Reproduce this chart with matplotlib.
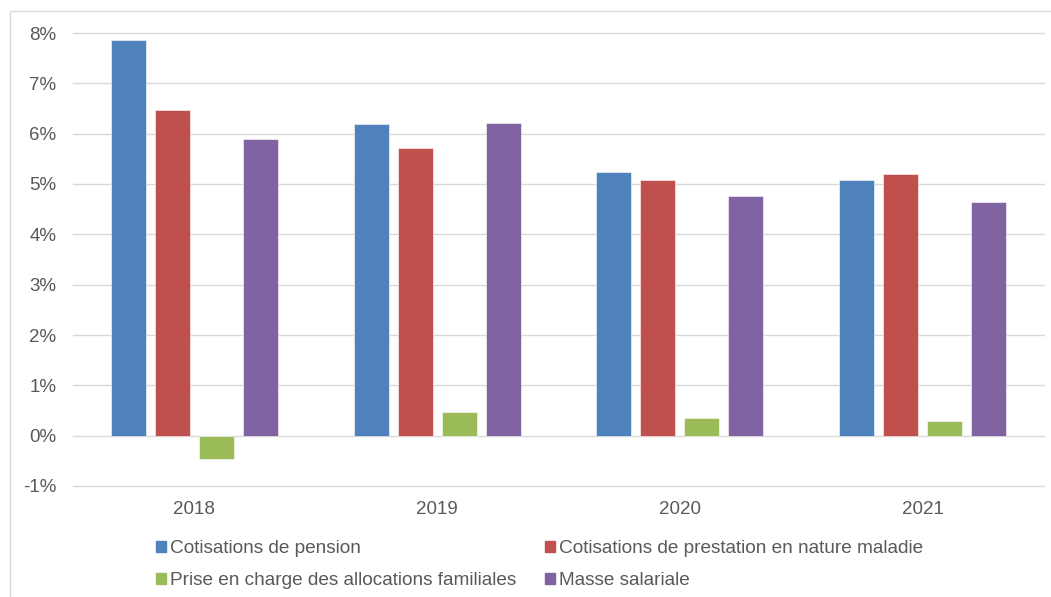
import matplotlib
matplotlib.use("Agg")
import matplotlib.pyplot as plt
import numpy as np
from matplotlib.patches import Rectangle, Patch

plt.rcParams['font.family'] = ['Liberation Sans', 'DejaVu Sans']

years = ["2018", "2019", "2020", "2021"]
series_names = [
    "Cotisations de pension",
    "Cotisations de prestation en nature maladie",
    "Prise en charge des allocations familiales",
    "Masse salariale",
]
pension = [7.86, 6.19, 5.24, 5.08]
maladie = [6.47, 5.71, 5.07, 5.19]
allocations = [-0.47, 0.48, 0.35, 0.29]
masse = [5.89, 6.21, 4.77, 4.65]
colors = ["#4F81BD", "#C0504D", "#9BBB59", "#8064A2"]
yticks = [-1, 0, 1, 2, 3, 4, 5, 6, 7, 8]

W, H = 1051, 597
fig = plt.figure(figsize=(W / 100, H / 100), dpi=100)
ax = fig.add_axes([73 / W, 1 - 486 / H, (1044 - 73) / W, (486 - 33) / H])

# outer frame
fig.patches.append(Rectangle((10 / W, -0.05), 1.1, 1 - 11 / H + 0.05,
                             transform=fig.transFigure, fill=False,
                             edgecolor="#d9d9d9", linewidth=1.0, zorder=0))

x = np.arange(len(years))
pitch = 44 / 242.75
bw = 35 / 242.75
data = [pension, maladie, allocations, masse]
for i, (vals, c) in enumerate(zip(data, colors)):
    ax.bar(x + (i - 1.5) * pitch, vals, width=bw, color=c, zorder=3,
           edgecolor="white", linewidth=0.4)

ax.set_xlim(-0.5, 3.5)
ax.set_ylim(-1, 8)
ax.set_yticks(yticks)
ax.set_yticklabels([f"{t}%" for t in yticks])
ax.set_xticks(x)
ax.set_xticklabels(years)
for t in yticks:
    ax.axhline(t, color="#d9d9d9", linewidth=1.0, zorder=0, clip_on=False)
for s in ax.spines.values():
    s.set_visible(False)
ax.tick_params(axis="both", length=0, labelsize=13.5, labelcolor="#595959")
ax.tick_params(axis="y", pad=12)
ax.tick_params(axis="x", pad=11)

handles = [Patch(color=colors[k]) for k in range(4)]
order = [0, 2, 1, 3]
leg = fig.legend([handles[k] for k in order], [series_names[k] for k in order],
                 ncol=2, loc="upper left", bbox_to_anchor=(156 / W, 1 - 540 / H),
                 frameon=False, fontsize=13.7, handlelength=0.5, handleheight=0.5,
                 handletextpad=0.25, columnspacing=1.5, labelspacing=0.78,
                 borderaxespad=0, borderpad=0)
for t in leg.get_texts():
    t.set_color("#595959")

fig.savefig("out.png", dpi=100)
